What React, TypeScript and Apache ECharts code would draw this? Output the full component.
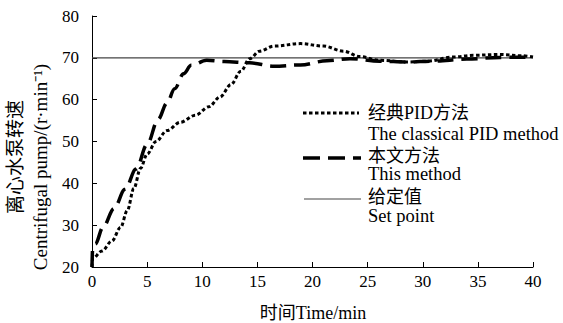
import React, { useEffect, useRef } from "react";
import * as echarts from "echarts";

// Classical PID method response
const pidTime = [0, 0.05, 0.9, 1.8, 2.6, 3.2, 3.8, 4.4, 5, 5.8, 6.8, 8, 9.4, 10.6, 11.6, 12.6, 13.5, 14.3, 15.2, 16.5, 18.9, 21, 22.8, 24.3, 26.1, 28.6, 30.4, 32.8, 34.6, 37, 39, 40];
const pidValue = [20, 22, 23.8, 26.2, 29.5, 33.5, 38.8, 43.6, 47, 50, 52.6, 54.6, 56.3, 58.3, 60.6, 63.6, 66.8, 69.8, 71.6, 72.8, 73.4, 72.8, 71.6, 70.3, 69.4, 69, 69.2, 70.2, 70.6, 70.8, 70.5, 70.2];

// This method response
const thisTime = [0, 0.05, 0.3, 1, 2, 3, 4, 5, 6, 6.8, 7.5, 8.3, 9, 10.4, 12, 14.3, 16.5, 18.9, 21.3, 23.4, 26.1, 28.6, 30.9, 34, 37, 40];
const thisValue = [20, 24, 25.5, 29.5, 34, 38.6, 43.4, 49.3, 55.3, 59.2, 62.6, 66.2, 68.2, 69.4, 69.1, 68.8, 68, 68.3, 69.3, 69.8, 69.2, 69, 69.2, 69.7, 70.1, 70.2];

// Set point
const setTime = [0, 40];
const setValue = [70, 70];

const xTicks = { min: 0, max: 40, interval: 5 };
const yTicks = { min: 20, max: 80, interval: 10 };

const legendNames = [
  ["经典PID方法", "The classical PID method"],
  ["本文方法", "This method"],
  ["给定值", "Set point"],
];
const xName = "时间Time/min";
const yNameCn = "离心水泵转速";
const yNameEn = "Centrifugal pump/(r·min⁻¹)";

const FONT = "'Liberation Serif', 'Noto Sans CJK SC', serif";

const zip = (a: number[], b: number[]) => a.map((t, i) => [t, b[i]]);

export default function App() {
  const ref = useRef<HTMLDivElement>(null);
  useEffect(() => {
    if (!ref.current) return;
    const chart = echarts.init(ref.current, null, { renderer: "svg" });
    const txt = (x: number, y: number, text: string, size: number, extra: any = {}) => ({
      type: "text",
      x,
      y,
      ...extra,
      style: {
        text,
        x: 0,
        y: 0,
        fill: "#000",
        font: `${size}px ${FONT}`,
        align: extra.align || "left",
        verticalAlign: "middle",
      },
    });
    chart.setOption({
      animation: false,
      grid: { left: 92, right: 30, top: 16, bottom: 56 },
      xAxis: {
        type: "value",
        min: xTicks.min,
        max: xTicks.max,
        interval: xTicks.interval,
        axisLine: { lineStyle: { color: "#000", width: 1 } },
        axisTick: { inside: true, length: 5, lineStyle: { color: "#000" } },
        axisLabel: { color: "#000", fontSize: 17, fontFamily: FONT, margin: 6 },
        splitLine: { show: false },
      },
      yAxis: {
        type: "value",
        min: yTicks.min,
        max: yTicks.max,
        interval: yTicks.interval,
        axisLine: { show: true, lineStyle: { color: "#000", width: 1 } },
        axisTick: { show: true, inside: true, length: 5, lineStyle: { color: "#000" } },
        axisLabel: { color: "#000", fontSize: 17, fontFamily: FONT, margin: 13 },
        splitLine: { show: false },
      },
      series: [
        {
          name: legendNames[2][0],
          type: "line",
          data: zip(setTime, setValue),
          showSymbol: false,
          lineStyle: { color: "#444", width: 1.2 },
          z: 1,
        },
        {
          name: legendNames[0][0],
          type: "line",
          data: zip(pidTime, pidValue),
          showSymbol: false,
          smooth: 0.35,
          smoothMonotone: "x",
          lineStyle: { color: "#000", width: 3, type: [3.5, 2.5] },
          z: 3,
        },
        {
          name: legendNames[1][0],
          type: "line",
          data: zip(thisTime, thisValue),
          showSymbol: false,
          smooth: 0.35,
          smoothMonotone: "x",
          lineStyle: { color: "#000", width: 3.5, type: [16, 8] },
          z: 2,
        },
      ],
      graphic: [
        { type: "line", shape: { x1: 303, y1: 113, x2: 359, y2: 113 }, style: { stroke: "#000", lineWidth: 3, lineDash: [3.5, 2.5] } },
        { type: "line", shape: { x1: 303, y1: 158, x2: 361, y2: 158 }, style: { stroke: "#000", lineWidth: 3.5, lineDash: [17, 8] } },
        { type: "line", shape: { x1: 304, y1: 199, x2: 361, y2: 199 }, style: { stroke: "#444", lineWidth: 1.2 } },
        txt(368, 113, legendNames[0][0], 18),
        txt(368, 134, legendNames[0][1], 18.5),
        txt(368, 156, legendNames[1][0], 18),
        txt(368, 174, legendNames[1][1], 18.5),
        txt(368, 197, legendNames[2][0], 18),
        txt(368, 216, legendNames[2][1], 18.5),
        txt(313, 313, xName, 18, { align: "center" }),
        txt(15, 157, yNameCn, 19, { align: "center", rotation: Math.PI / 2 }),
        txt(40, 167, yNameEn, 19, { align: "center", rotation: Math.PI / 2 }),
      ],
    });
    return () => chart.dispose();
  }, []);
  return (
    <div
      ref={ref}
      style={{ position: "fixed", left: 0, top: 0, width: 563, height: 323, background: "#fff" }}
    />
  );
}
